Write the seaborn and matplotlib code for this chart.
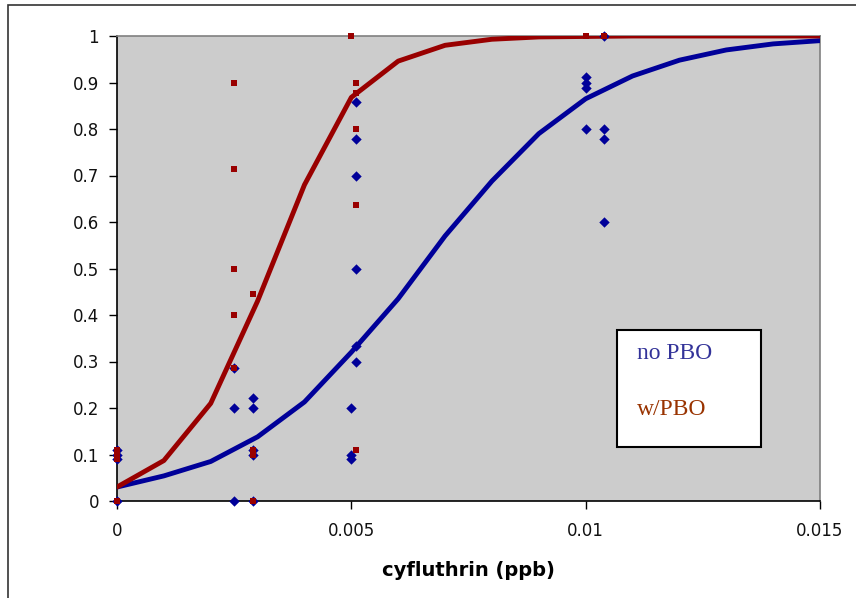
import matplotlib
matplotlib.use("Agg")
import matplotlib.pyplot as plt
from matplotlib.patches import Rectangle
import numpy as np
import pandas as pd
import seaborn as sns

# Observed mortality, no PBO
nopbo_x = [0, 0, 0, 0,
           0.0025, 0.0025, 0.0025,
           0.0029, 0.0029, 0.0029, 0.0029, 0.0029,
           0.005, 0.005, 0.005,
           0.0051, 0.0051, 0.0051, 0.0051, 0.0051, 0.0051,
           0.01, 0.01, 0.01, 0.01,
           0.0104, 0.0104, 0.0104, 0.0104]
nopbo_y = [0.11, 0.1, 0.09, 0,
           0.286, 0.2, 0,
           0.222, 0.2, 0.11, 0.1, 0,
           0.2, 0.1, 0.09,
           0.857, 0.778, 0.7, 0.5, 0.334, 0.3,
           0.911, 0.9, 0.888, 0.8,
           1.0, 0.8, 0.778, 0.6]

# Observed mortality, with PBO
pbo_x = [0, 0, 0, 0,
         0.0025, 0.0025, 0.0025, 0.0025, 0.0025,
         0.0029, 0.0029, 0.0029, 0.0029,
         0.005,
         0.0051, 0.0051, 0.0051, 0.0051, 0.0051,
         0.01, 0.0104]
pbo_y = [0.11, 0.1, 0.09, 0,
         0.9, 0.715, 0.5, 0.4, 0.286,
         0.445, 0.11, 0.1, 0,
         1.0,
         0.9, 0.877, 0.8, 0.637, 0.11,
         1.0, 1.0]

# Fitted dose-response curves
fit_x = [0, 0.001, 0.002, 0.003, 0.004, 0.005, 0.006, 0.007,
         0.008, 0.009, 0.01, 0.011, 0.012, 0.013, 0.014, 0.015]
fit_nopbo = [0.03, 0.054, 0.085, 0.138, 0.213, 0.32, 0.435, 0.57,
             0.688, 0.79, 0.865, 0.914, 0.948, 0.97, 0.983, 0.99]
fit_pbo = [0.03, 0.087, 0.21, 0.43, 0.68, 0.868, 0.946, 0.98,
           0.993, 0.998, 0.999, 1.0, 1.0, 1.0, 1.0, 1.0]

x_ticks = [0, 0.005, 0.01, 0.015]
x_labels = ["0", "0.005", "0.01", "0.015"]
y_ticks = [round(0.1 * i, 1) for i in range(11)]
y_labels = ["0", "0.1", "0.2", "0.3", "0.4", "0.5", "0.6", "0.7", "0.8", "0.9", "1"]

BLUE = "#000099"
RED = "#990000"

sns.set_theme(style="white")
plt.rcParams["font.family"] = ["DejaVu Sans"]

fig = plt.figure(figsize=(8.56, 5.98), dpi=100)
ax = fig.add_axes([117 / 856, 1 - 501 / 598, 703 / 856, 465 / 598])
ax.set_facecolor("#CCCCCC")

fit_df = pd.DataFrame({"x": fit_x, "nopbo": fit_nopbo, "pbo": fit_pbo})
sns.lineplot(data=fit_df, x="x", y="nopbo", ax=ax, color=BLUE, lw=3.5, zorder=3)
sns.lineplot(data=fit_df, x="x", y="pbo", ax=ax, color=RED, lw=3.5, zorder=3)

nopbo_df = pd.DataFrame({"x": nopbo_x, "y": nopbo_y})
pbo_df = pd.DataFrame({"x": pbo_x, "y": pbo_y})
sns.scatterplot(data=nopbo_df, x="x", y="y", ax=ax, marker="D", s=28,
                color=BLUE, edgecolor=BLUE, linewidth=0, zorder=4, clip_on=False)
sns.scatterplot(data=pbo_df, x="x", y="y", ax=ax, marker="s", s=24,
                color=RED, edgecolor=RED, linewidth=0, zorder=5, clip_on=False)

ax.set_xlim(0, 0.015)
ax.set_ylim(0, 1)
ax.set_xticks(x_ticks)
ax.set_xticklabels(x_labels, fontsize=12, color="#111111")
ax.set_yticks(y_ticks)
ax.set_yticklabels(y_labels, fontsize=12, color="#111111")
ax.tick_params(axis="both", direction="out", length=6, width=1, color="black",
               bottom=True, left=True)
ax.tick_params(axis="y", pad=7)
ax.tick_params(axis="x", pad=9)
ax.set_xlabel("cyfluthrin (ppb)", fontsize=14, fontweight="bold", color="black",
              labelpad=15)
ax.set_ylabel("")

for side in ["left", "bottom"]:
    ax.spines[side].set_color("black")
    ax.spines[side].set_linewidth(1.2)
for side in ["top", "right"]:
    ax.spines[side].set_color("#808080")
    ax.spines[side].set_linewidth(1.2)

# legend box
ax.add_patch(Rectangle((0.711, 0.116), 0.205, 0.252, transform=ax.transAxes,
                       facecolor="white", edgecolor="black", lw=1.5, zorder=6))
ax.text(0.74, 0.318, "no PBO", transform=ax.transAxes, color="#333399",
        fontsize=17, family="Liberation Serif", va="center", zorder=7)
ax.text(0.74, 0.196, "w/PBO", transform=ax.transAxes, color="#993300",
        fontsize=17, family="Liberation Serif", va="center", zorder=7)

# outer chart frame
fig.patches.append(Rectangle((8 / 856, -0.1), 1.2, 1 - 5 / 598 + 0.1,
                             transform=fig.transFigure, fill=False,
                             edgecolor="#333333", lw=1.2))

fig.savefig("out.png", dpi=100)
